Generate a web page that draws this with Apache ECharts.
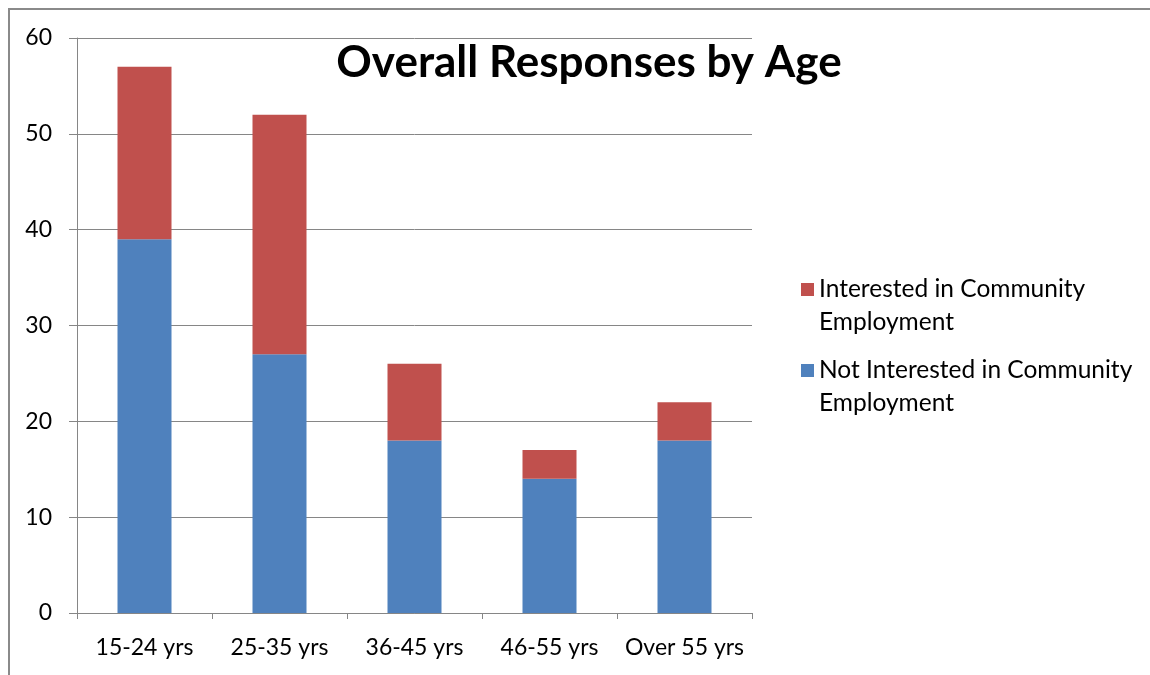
<!DOCTYPE html>
<html>
<head>
<meta charset="utf-8">
<script src="https://cdn.jsdelivr.net/npm/echarts@6/dist/echarts.min.js"></script>
<style>
  html, body { margin: 0; padding: 0; background: #fff; }
  #frame {
    position: absolute; left: 8px; top: 8px; width: 1150px; height: 675px;
    border-top: 2px solid #8a8a8a; border-left: 2px solid #8a8a8a;
  }
  #chart { position: absolute; left: 0; top: 0; width: 1150px; height: 675px; }
</style>
</head>
<body>
<div id="frame"></div>
<div id="chart"></div>
<script>
const ageGroups = ["15-24 yrs", "25-35 yrs", "36-45 yrs", "46-55 yrs", "Over 55 yrs"];
const notInterested = [39, 27, 18, 14, 18];
const interested = [18, 25, 8, 3, 4];
const yTicks = { min: 0, max: 60, interval: 10 };

const FONT = "Lato";
const chart = echarts.init(document.getElementById("chart"));

// blank first line keeps the square next to the first text line
const legendBase = {
  orient: "vertical",
  left: 796,
  itemWidth: 13,
  itemHeight: 13,
  itemGap: 0,
  icon: "rect",
  selectedMode: false,
  formatter: (name) => " \n" + name.replace(" Employment", "\nEmployment"),
  textStyle: {
    fontFamily: FONT,
    fontSize: 24.5,
    color: "#000",
    lineHeight: 33,
  },
};

const option = {
  animation: false,
  title: {
    text: "Overall Responses by Age",
    left: 584,
    textAlign: "center",
    top: 36,
    textStyle: { fontFamily: FONT, fontWeight: "bold", fontSize: 44, color: "#000" },
  },
  legend: [
    Object.assign({}, legendBase, { top: 235, data: ["Interested in Community Employment"] }),
    Object.assign({}, legendBase, { top: 316, data: ["Not Interested in Community Employment"] }),
  ],
  grid: { left: 77, right: 398, top: 38, bottom: 62 },
  xAxis: {
    type: "category",
    data: ageGroups,
    axisLine: { lineStyle: { color: "#868686", width: 1 } },
    axisTick: { show: true, length: 6, interval: 0, lineStyle: { color: "#868686" } },
    axisLabel: { fontFamily: FONT, fontSize: 23, color: "#000", margin: 23, interval: 0 },
  },
  yAxis: {
    type: "value",
    min: yTicks.min,
    max: yTicks.max,
    interval: yTicks.interval,
    axisLine: { show: true, lineStyle: { color: "#868686", width: 1 } },
    axisTick: { show: true, length: 8, lineStyle: { color: "#868686" } },
    splitLine: { show: true, lineStyle: { color: "#868686", width: 1 } },
    axisLabel: { fontFamily: FONT, fontSize: 23, color: "#000", margin: 25 },
  },
  series: [
    {
      name: "Not Interested in Community Employment",
      type: "bar",
      stack: "total",
      barWidth: "40%",
      data: notInterested,
      itemStyle: { color: "#4F81BD" },
    },
    {
      name: "Interested in Community Employment",
      type: "bar",
      stack: "total",
      barWidth: "40%",
      data: interested,
      itemStyle: { color: "#C0504D" },
    },
  ],
};

chart.setOption(option);
</script>
</body>
</html>
